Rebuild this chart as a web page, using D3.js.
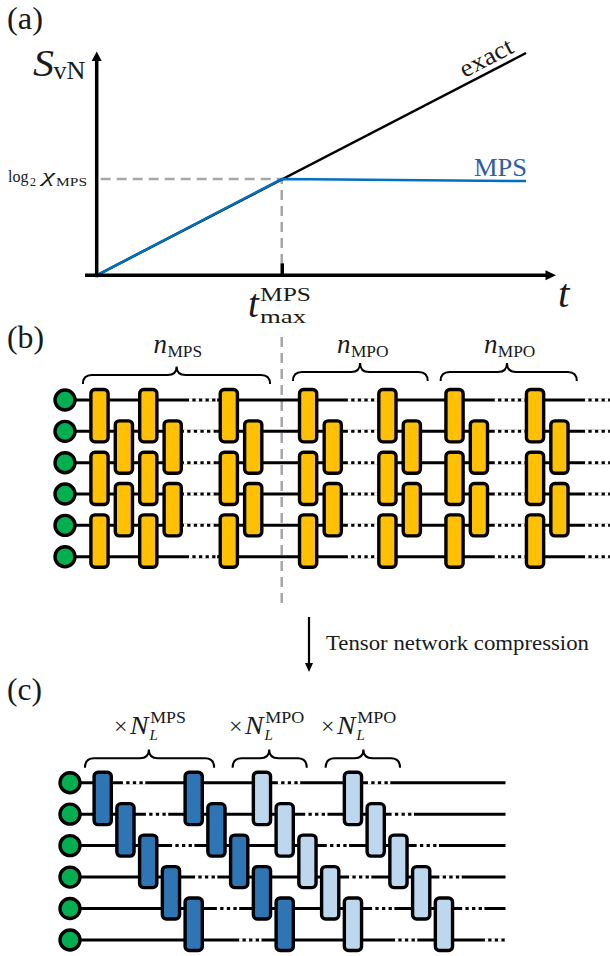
<!DOCTYPE html>
<html>
<head>
<meta charset="utf-8">
<style>
    html, body { margin: 0; padding: 0; background: #fff; }
    svg { display: block; }
    text { font-family: "Liberation Serif", serif; fill: #1a1a1a; }
    .it { font-style: italic; }
    .wire { stroke: #000; stroke-width: 3; }
    .dots { stroke: #fff; stroke-width: 3.6; stroke-dasharray: 3.3 3.3; }
    .gate { stroke: #000; stroke-width: 3.4; }
    .qubit { fill: #00B050; stroke: #000; stroke-width: 3.4; }
    .brace { fill: none; stroke: #000; stroke-width: 2; }
    .guide { stroke: #A6A6A6; stroke-width: 2.5; stroke-dasharray: 10 6; fill: none; }
</style>
</head>
<body>
<svg width="610" height="956"></svg>
<script src="https://d3js.org/d3.v7.min.js"></script>
<script>
// panel (a): entropy growth, arbitrary units 0-100 on both axes
const exactT = [0, 100]
const exactS = [0, 100]
const mpsT = [0, 43.1, 100]
const mpsS = [0, 43.3, 42.4]
const tMax = [43.1]
const chiLevel = 43.3

// panel (b): gates sit on slots of the circuit, one slot = one brickwork layer
const bWires = [0, 1, 2, 3, 4, 5]
const bOddSlots = [0, 2, 5.3, 8.55, 11.8, 14.55, 17.85]
const bEvenSlots = [1, 3, 6.3, 9.56, 12.8, 15.55, 18.85]
const bOddTops = [0, 2, 4]
const bEvenTops = [1, 3]
const bDotFrom = [3.67, 3.46, 3.46, 3.46, 3.46, 3.67]
const bDotTo = [4.82, 4.82, 4.82, 4.82, 4.82, 4.82]
const bDotFrom2 = [10.18, 16.2, 19.9]
const bDotTo2 = [11.41, 17.44, 20.9]
const bBraces = [[-0.68, 3.16, 6.99], [7.93, 10.68, 13.45], [13.98, 16.7, 19.56]]
const bBraceLabels = ["MPS", "MPO", "MPO"]

// panel (c): staircases of gates
const cWires = [0, 1, 2, 3, 4, 5]
const cDarkStarts = [0, 4]
const cLightStarts = [7, 11]
const cStairTops = [0, 1, 2, 3, 4]
const cDotStarts = [
    [0.89, 7.7, 11.66],
    [1.9, 8.9, 12.7],
    [3.05, 9.85, 13.8],
    [4.06, 10.83, 14.8],
    [5.02, 11.84, 15.8],
    [6.0, 12.85, 16.8]
]
const cBraces = [[-0.78, 2.03, 4.9], [5.71, 7.32, 8.97], [9.8, 11.46, 13.07]]
const cBraceLabels = ["MPS", "MPO", "MPO"]

let svg = d3.select("svg")

// one text element, several pieces: [str, x, y, size, class, width]
function label(parts) {
    let t = svg.append("text")
    parts.forEach(p => {
        let s = t.append("tspan").attr("x", p[1]).attr("y", p[2])
            .attr("font-size", p[3]).attr("class", p[4] || null).text(p[0])
        if (p[5]) s.attr("textLength", p[5]).attr("lengthAdjust", "spacingAndGlyphs")
    })
    return t
}

// panel letters
label([["(a)", 7, 28.5, 32, "", 36]])
label([["(b)", 7, 348, 32, "", 37]])
label([["(c)", 7, 700, 32, "", 35]])

// ---------- panel (a)
let x = d3.scaleLinear().domain([0, 100]).range([96.7, 526])
let y = d3.scaleLinear().domain([0, 100]).range([275.3, 53])

let gA = svg.append("g")

gA.append("path").attr("class", "guide")
    .attr("d", d3.line()([[x(0) + 4, y(chiLevel)], [x(tMax[0]), y(chiLevel)], [x(tMax[0]), y(0) - 12]]))
// same guide carries on down through panel (b)
gA.append("line").attr("class", "guide")
    .attr("x1", x(tMax[0])).attr("x2", x(tMax[0])).attr("y1", 337).attr("y2", 603)

let line = d3.line().x(d => x(d[0])).y(d => y(d[1]))
gA.append("path").attr("d", line(d3.zip(exactT, exactS)))
    .attr("fill", "none").attr("stroke", "#000").attr("stroke-width", 2.5)
gA.append("path").attr("d", line(d3.zip(mpsT, mpsS)))
    .attr("fill", "none").attr("stroke", "#0070C0").attr("stroke-width", 2.5)

gA.append("g")
    .attr("transform", `translate(0, ${y(0)})`)
    .call(d3.axisBottom(x).tickValues(tMax).tickSize(-12).tickFormat(""))
    .call(g => g.select(".domain").remove())
    .call(g => g.selectAll(".tick line").attr("stroke", "#000").attr("stroke-width", 3.5))

gA.append("line").attr("x1", 85).attr("x2", 548).attr("y1", y(0)).attr("y2", y(0))
    .attr("stroke", "#000").attr("stroke-width", 3.5)
gA.append("line").attr("x1", x(0)).attr("x2", x(0)).attr("y1", y(0) + 2).attr("y2", 60)
    .attr("stroke", "#000").attr("stroke-width", 3.5)
gA.append("path").attr("d", `M556,${y(0)}L545.5,${y(0) - 5}V${y(0) + 5}Z`)
gA.append("path").attr("d", `M${x(0)},51.5L${x(0) - 5},61H${x(0) + 5}Z`)

label([["S", 33, 76, 38, "it", 21], ["vN", 53.5, 79, 25, "", 32]])
label([["log", 8, 182, 17, "", 20.5], ["2", 30, 186, 12], ["χ", 42, 182, 19, "it", 13], ["MPS", 56, 186, 13, "", 31]])
label([["t", 248, 317, 39, "it"], ["MPS", 260, 301, 19.5, "", 51], ["max", 260, 322.6, 19.5, "", 46]])
label([["t", 558, 307, 41, "it"]])
label([["MPS", 474, 175.7, 26, "", 53]]).style("fill", "#2F5DA8")
label([["exact", 0, 0, 25, "", 57]]).attr("transform", "translate(464.5,78) rotate(-27.3)")

// ---------- shared circuit drawing
function brace(xs, ys, b) {
    let [x0, xm, x1] = b.map(xs)
    let r = 9
    return `M${x0},${ys.end}Q${x0},${ys.body} ${x0 + r},${ys.body}L${xm - r},${ys.body}` +
        `Q${xm},${ys.body} ${xm},${ys.tip}Q${xm},${ys.body} ${xm + r},${ys.body}` +
        `L${x1 - r},${ys.body}Q${x1},${ys.body} ${x1},${ys.end}`
}

function gates(g, cells, xs, wy, fill) {
    g.selectAll(null)
        .data(cells)
        .join("rect")
        .attr("class", "gate")
        .attr("x", d => xs(d[0]) - 8.6)
        .attr("width", 17.2)
        .attr("y", d => wy(d[1]) - 10.5)
        .attr("height", d => wy(d[1] + 1) - wy(d[1]) + 21)
        .attr("rx", 4)
        .attr("fill", fill)
}

function wires(g, list, xs, wy, from, to) {
    g.selectAll(null)
        .data(list)
        .join("line")
        .attr("class", "wire")
        .attr("x1", from).attr("x2", to)
        .attr("y1", d => wy(d)).attr("y2", d => wy(d))
}

function qubits(g, list, wy, cx) {
    g.selectAll(null)
        .data(list)
        .join("circle")
        .attr("class", "qubit")
        .attr("cx", cx).attr("cy", d => wy(d)).attr("r", 10)
}

function dots(g, runs, xs, wy) {
    g.selectAll(null)
        .data(runs)
        .join("line")
        .attr("class", "dots")
        .attr("x1", d => xs(d[1])).attr("x2", d => xs(d[2]))
        .attr("y1", d => wy(d[0])).attr("y2", d => wy(d[0]))
}

// ---------- panel (b)
let bx = d3.scaleLinear().domain([0, 1]).range([99.5, 123.9])
let by = d3.scaleLinear().domain([0, 5]).range([400, 556.7])
let gB = svg.append("g")

wires(gB, bWires, bx, by, 65, 610)
let bRuns = bWires.map((w, i) => [w, bDotFrom[i], bDotTo[i]])
bDotFrom2.forEach((f, i) => bWires.forEach(w => bRuns.push([w, f, bDotTo2[i]])))
dots(gB, bRuns, bx, by)
gates(gB, d3.cross(bOddSlots, bOddTops), bx, by, "#FFC000")
gates(gB, d3.cross(bEvenSlots, bEvenTops), bx, by, "#FFC000")
qubits(gB, bWires, by, 65)

let bBraceY = [{ tip: 366.5, body: 375, end: 384 }, { tip: 363, body: 372, end: 381 }, { tip: 363, body: 372, end: 381 }]
gB.selectAll(null).data(bBraces).join("path").attr("class", "brace")
    .attr("d", (d, i) => brace(bx, bBraceY[i], d))
bBraces.forEach((b, i) => {
    let xm = bx(b[1])
    let base = i == 0 ? 353.3 : 352.7
    label([["n", xm - 23, base, 27, "it"], [bBraceLabels[i], xm - 9.2, base + 4, 17.5, "", i == 0 ? 34.7 : 37.6]])
})

// compression arrow
svg.append("line").attr("x1", 309).attr("x2", 309).attr("y1", 617).attr("y2", 665)
    .attr("stroke", "#000").attr("stroke-width", 2.2)
svg.append("path").attr("d", "M309,672L305,663H313Z")
label([["Tensor network compression", 326, 650, 21, "", 263]])

// ---------- panel (c)
let cx = d3.scaleLinear().domain([0, 1]).range([102.7, 125.45])
let cy = d3.scaleLinear().domain([0, 5]).range([782.7, 940])
let gC = svg.append("g")

wires(gC, cWires, cx, cy, 70, 505.5)
let cRuns = []
cDotStarts.forEach((starts, w) => starts.forEach(s => cRuns.push([w, s, s + 0.98])))
dots(gC, cRuns, cx, cy)
gates(gC, d3.cross(cDarkStarts, cStairTops).map(d => [d[0] + d[1], d[1]]), cx, cy, "#2E75B6")
gates(gC, d3.cross(cLightStarts, cStairTops).map(d => [d[0] + d[1], d[1]]), cx, cy, "#BDD7EE")
qubits(gC, cWires, cy, 70)

gC.selectAll(null).data(cBraces).join("path").attr("class", "brace")
    .attr("d", d => brace(cx, { tip: 749.5, body: 758.3, end: 767.7 }, d))
let cTimesX = [114, 229, 321]
cBraces.forEach((b, i) => {
    let x0 = cTimesX[i]
    label([["×", x0, 733.5, 24, "", 13.5],
        ["N", x0 + 16, 734, 26, "it", 18.5],
        [cBraceLabels[i], x0 + 36.2, 723.3, 16.5, "", i == 0 ? 35.7 : 39],
        ["L", x0 + 35.5, 740, 15, "it"]])
})
</script>
</body>
</html>
